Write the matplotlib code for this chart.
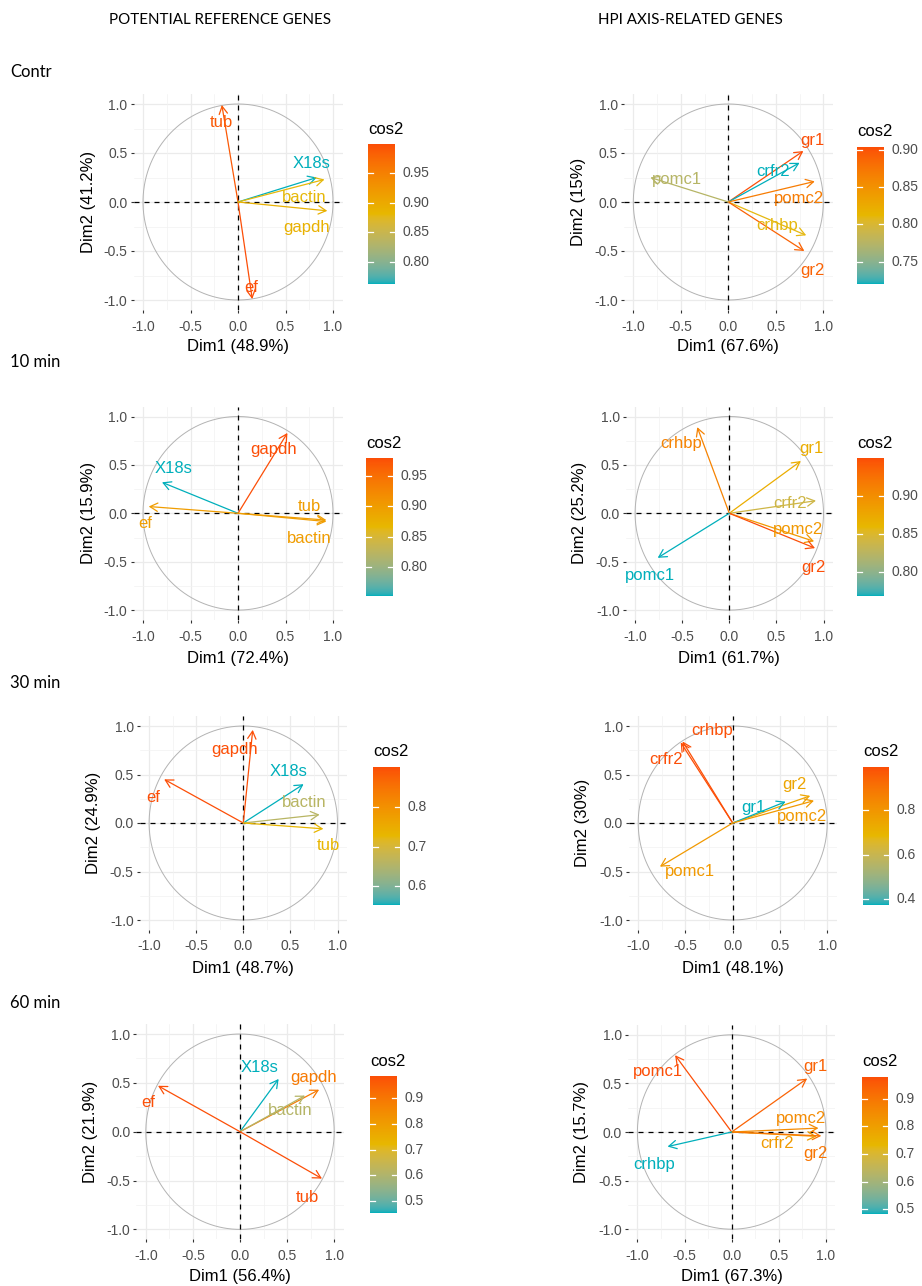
import numpy as np
import matplotlib
matplotlib.use("Agg")
import matplotlib.pyplot as plt
from matplotlib.colors import ListedColormap, Normalize

W, H, DPI = 922, 1286, 100

col_titles = ["POTENTIAL REFERENCE GENES", "HPI AXIS-RELATED GENES"]
row_titles = ["Contr", "10 min", "30 min", "60 min"]

# ---------------- data (variable coordinates on Dim1/Dim2 and cos2) ----------------
p1_names = ["tub", "ef", "X18s", "bactin", "gapdh"]
p1_x = [-0.17, 0.15, 0.83, 0.91, 0.94]
p1_y = [0.99, -0.99, 0.25, 0.23, -0.09]
p1_cos2 = [0.99, 1.0, 0.762, 0.88, 0.89]
p1_dims = ("48.9%", "41.2%")
p1_cticks = ["0.80", "0.85", "0.90", "0.95"]

p2_names = ["gr1", "crfr2", "pomc2", "crhbp", "gr2", "pomc1"]
p2_x = [0.79, 0.75, 0.91, 0.82, 0.80, -0.82]
p2_y = [0.52, 0.40, 0.21, -0.34, -0.50, 0.25]
p2_cos2 = [0.904, 0.72, 0.87, 0.81, 0.89, 0.775]
p2_dims = ("67.6%", "15%")
p2_cticks = ["0.75", "0.80", "0.85", "0.90"]

p3_names = ["gapdh", "X18s", "ef", "tub", "bactin"]
p3_x = [0.52, -0.80, -0.94, 0.93, 0.93]
p3_y = [0.83, 0.32, 0.07, -0.07, -0.085]
p3_cos2 = [0.98, 0.752, 0.90, 0.90, 0.90]
p3_dims = ("72.4%", "15.9%")
p3_cticks = ["0.80", "0.85", "0.90", "0.95"]

p4_names = ["crhbp", "gr1", "crfr2", "pomc2", "gr2", "pomc1"]
p4_x = [-0.34, 0.76, 0.92, 0.90, 0.91, -0.76]
p4_y = [0.89, 0.54, 0.13, -0.29, -0.36, -0.46]
p4_cos2 = [0.91, 0.87, 0.84, 0.89, 0.949, 0.769]
p4_dims = ("61.7%", "25.2%")
p4_cticks = ["0.80", "0.85", "0.90"]

p5_names = ["gapdh", "X18s", "ef", "bactin", "tub"]
p5_x = [0.10, 0.64, -0.84, 0.81, 0.85]
p5_y = [0.96, 0.40, 0.45, 0.086, -0.06]
p5_cos2 = [0.90, 0.552, 0.902, 0.66, 0.73]
p5_dims = ("48.7%", "24.9%")
p5_cticks = ["0.6", "0.7", "0.8"]

p6_names = ["crhbp", "crfr2", "gr2", "gr1", "pomc2", "pomc1"]
p6_x = [-0.53, -0.55, 0.82, 0.56, 0.86, -0.77]
p6_y = [0.84, 0.83, 0.28, 0.22, 0.23, -0.45]
p6_cos2 = [0.99, 0.995, 0.75, 0.374, 0.79, 0.79]
p6_dims = ("48.1%", "30%")
p6_cticks = ["0.4", "0.6", "0.8"]

p7_names = ["X18s", "gapdh", "bactin", "ef", "tub"]
p7_x = [0.41, 0.84, 0.69, -0.87, 0.87]
p7_y = [0.54, 0.43, 0.37, 0.47, -0.48]
p7_cos2 = [0.455, 0.89, 0.61, 0.98, 0.984]
p7_dims = ("56.4%", "21.9%")
p7_cticks = ["0.5", "0.6", "0.7", "0.8", "0.9"]

p8_names = ["pomc1", "gr1", "pomc2", "crfr2", "gr2", "crhbp"]
p8_x = [-0.60, 0.80, 0.92, 0.90, 0.95, -0.68]
p8_y = [0.79, 0.55, 0.04, -0.045, -0.04, -0.15]
p8_cos2 = [0.978, 0.94, 0.85, 0.81, 0.90, 0.483]
p8_dims = ("67.3%", "15.7%")
p8_cticks = ["0.5", "0.6", "0.7", "0.8", "0.9"]

# ---------------- layout (label placement in data units, panel pixel geometry) ----------------
label_pos = {
    1: [(-0.18, 0.81), (0.14, -0.87), (0.77, 0.39), (0.70, 0.05), (0.72, -0.26)],
    2: [(0.89, 0.63), (0.47, 0.31), (0.74, 0.04), (0.51, -0.24), (0.89, -0.70), (-0.54, 0.23)],
    3: [(0.37, 0.66), (-0.68, 0.46), (-0.98, -0.11), (0.75, 0.07), (0.75, -0.26)],
    4: [(-0.51, 0.72), (0.87, 0.67), (0.64, 0.10), (0.73, -0.17), (0.89, -0.56), (-0.84, -0.64)],
    5: [(-0.09, 0.76), (0.48, 0.53), (-0.96, 0.26), (0.65, 0.21), (0.90, -0.23)],
    6: [(-0.22, 0.95), (-0.71, 0.65), (0.65, 0.40), (0.22, 0.16), (0.73, 0.07), (-0.45, -0.50)],
    7: [(0.21, 0.66), (0.78, 0.55), (0.53, 0.215), (-0.97, 0.30), (0.71, -0.67)],
    8: [(-0.78, 0.62), (0.89, 0.67), (0.74, 0.14), (0.48, -0.12), (0.89, -0.22), (-0.82, -0.33)],
}
# centre x, centre y, px per unit x, px per unit y, colorbar (left, top, right, bottom)
geom = {
    1: (238.0, 202.0, 95.0, 98.0, (368, 144, 395, 284)),
    2: (728.3, 202.0, 95.0, 98.0, (857, 147, 884, 284)),
    3: (238.0, 513.3, 95.0, 96.8, (366, 458, 393, 596)),
    4: (729.3, 513.3, 94.2, 96.8, (857, 458, 884, 596)),
    5: (243.3, 823.0, 94.2, 97.0, (373, 767, 400, 905)),
    6: (732.7, 823.0, 94.5, 97.0, (863, 767, 889, 905)),
    7: (240.0, 1131.7, 94.2, 97.7, (370, 1076, 397, 1213)),
    8: (731.7, 1132.0, 94.3, 97.2, (862, 1077, 888, 1214)),
}

panels = {
    1: (p1_names, p1_x, p1_y, p1_cos2, p1_dims, p1_cticks),
    2: (p2_names, p2_x, p2_y, p2_cos2, p2_dims, p2_cticks),
    3: (p3_names, p3_x, p3_y, p3_cos2, p3_dims, p3_cticks),
    4: (p4_names, p4_x, p4_y, p4_cos2, p4_dims, p4_cticks),
    5: (p5_names, p5_x, p5_y, p5_cos2, p5_dims, p5_cticks),
    6: (p6_names, p6_x, p6_y, p6_cos2, p6_dims, p6_cticks),
    7: (p7_names, p7_x, p7_y, p7_cos2, p7_dims, p7_cticks),
    8: (p8_names, p8_x, p8_y, p8_cos2, p8_dims, p8_cticks),
}

# ---------------- colour map: ggplot-style Lab interpolation ----------------
WHITE = np.array([0.95047, 1.0, 1.08883])
M = np.array([[0.4124564, 0.3575761, 0.1804375],
              [0.2126729, 0.7151522, 0.0721750],
              [0.0193339, 0.1191920, 0.9503041]])
Minv = np.linalg.inv(M)


def hex2rgb(h):
    h = h.lstrip("#")
    return np.array([int(h[i:i + 2], 16) for i in (0, 2, 4)]) / 255.0


def rgb2lab(c):
    lin = np.where(c <= 0.04045, c / 12.92, ((c + 0.055) / 1.055) ** 2.4)
    t = (M @ lin) / WHITE
    f = np.where(t > 0.008856, np.cbrt(t), 7.787 * t + 16 / 116)
    return np.array([116 * f[1] - 16, 500 * (f[0] - f[1]), 200 * (f[1] - f[2])])


def lab2rgb(lab):
    fy = (lab[0] + 16) / 116
    fx = fy + lab[1] / 500
    fz = fy - lab[2] / 200
    f = np.array([fx, fy, fz])
    t = np.where(f ** 3 > 0.008856, f ** 3, (f - 16 / 116) / 7.787) * WHITE
    lin = Minv @ t
    lin = np.clip(lin, 0, 1)
    c = np.where(lin <= 0.0031308, 12.92 * lin, 1.055 * lin ** (1 / 2.4) - 0.055)
    return np.clip(c, 0, 1)


stops = [rgb2lab(hex2rgb(h)) for h in ("#00AFBB", "#E7B800", "#FC4E07")]
cols = []
for v in np.linspace(0, 1, 256):
    if v <= 0.5:
        a, b, t = stops[0], stops[1], v / 0.5
    else:
        a, b, t = stops[1], stops[2], (v - 0.5) / 0.5
    cols.append(lab2rgb(a + (b - a) * t))
cmap = ListedColormap(cols)

# ---------------- drawing ----------------
plt.rcParams["font.family"] = ["Liberation Sans", "DejaVu Sans"]
fig = plt.figure(figsize=(W / DPI, H / DPI), dpi=DPI)


def frect(l, t, w, h):
    return [l / W, 1 - (t + h) / H, w / W, h / H]


def ftext(x, y, s, **kw):
    fig.text(x / W, 1 - y / H, s, **kw)


TICKCOL = "#4D4D4D"
LIM = 1.1

for k, (names, xs, ys, c2, dims, cticks) in panels.items():
    cx, cy, ux, uy, cb = geom[k]
    ax = fig.add_axes(frect(cx - LIM * ux, cy - LIM * uy, 2 * LIM * ux, 2 * LIM * uy))
    ax.set_xlim(-LIM, LIM)
    ax.set_ylim(-LIM, LIM)
    for s in ax.spines.values():
        s.set_visible(False)
    ticks = [-1.0, -0.5, 0.0, 0.5, 1.0]
    minor = [-0.75, -0.25, 0.25, 0.75]
    for v in ticks:
        ax.axvline(v, color="#EBEBEB", lw=0.9, zorder=0)
        ax.axhline(v, color="#EBEBEB", lw=0.9, zorder=0)
    for v in minor:
        ax.axvline(v, color="#F2F2F2", lw=0.5, zorder=0)
        ax.axhline(v, color="#F2F2F2", lw=0.5, zorder=0)
    ax.set_xticks(ticks)
    ax.set_yticks(ticks)
    ax.set_xticklabels(["-1.0", "-0.5", "0.0", "0.5", "1.0"])
    ax.set_yticklabels(["-1.0", "-0.5", "0.0", "0.5", "1.0"])
    ax.tick_params(axis="both", length=2.5, width=0.8, color="#333333",
                   labelcolor=TICKCOL, labelsize=10)
    ax.tick_params(axis="x", pad=4.5)
    ax.tick_params(axis="y", pad=1.8)

    th = np.linspace(0, 2 * np.pi, 400)
    ax.plot(np.cos(th), np.sin(th), color="#B3B3B3", lw=0.7, zorder=1)
    ax.axhline(0, color="black", lw=0.9, dashes=(4, 4), zorder=2)
    ax.axvline(0, color="black", lw=0.9, dashes=(4, 4), zorder=2)

    norm = Normalize(vmin=min(c2), vmax=max(c2))
    for i, nm in enumerate(names):
        col = cmap(norm(c2[i]))
        ax.annotate("", xy=(xs[i], ys[i]), xytext=(0, 0),
                    arrowprops=dict(arrowstyle="->,head_length=0.55,head_width=0.3",
                                    color=col, lw=0.9, shrinkA=0, shrinkB=0,
                                    mutation_scale=10), zorder=3)
        lx, ly = label_pos[k][i]
        ax.text(lx, ly, nm, color=col, fontsize=12, ha="center", va="center",
                zorder=4, clip_on=False)

    # axis titles
    ftext(cx, cy + 145, "Dim1 (%s)" % dims[0], fontsize=12, ha="center", va="center")
    ftext(cx - 150, cy, "Dim2 (%s)" % dims[1], fontsize=12, ha="center", va="center",
          rotation=90)

    # colour bar
    l, t, r, b = cb
    cax = fig.add_axes(frect(l, t, r - l, b - t))
    vmin, vmax = min(c2), max(c2)
    grad = np.linspace(vmin, vmax, 256).reshape(-1, 1)
    cax.imshow(grad, cmap=cmap, norm=norm, aspect="auto", origin="lower",
               extent=(0, 1, vmin, vmax))
    cax.set_xlim(0, 1)
    cax.set_ylim(vmin, vmax)
    cax.set_xticks([])
    cax.set_yticks([])
    for s in cax.spines.values():
        s.set_visible(False)
    for lab in cticks:
        v = float(lab)
        cax.plot([0, 0.2], [v, v], color="white", lw=0.9)
        cax.plot([0.8, 1.0], [v, v], color="white", lw=0.9)
        ypx = b - (v - vmin) / (vmax - vmin) * (b - t)
        ftext(r + 7, ypx, lab, fontsize=10, color=TICKCOL, ha="left", va="center")
    ftext(l, t - 15, "cos2", fontsize=12, ha="left", va="center")

# headers
ftext(220, 20, col_titles[0], ha="center", va="center",
      family=["Lato", "DejaVu Sans"], fontsize=10.9, color="black")
ftext(690, 20, col_titles[1], ha="center", va="center",
      family=["Lato", "DejaVu Sans"], fontsize=10.9, color="black")
for yy, s in zip([72, 362, 683, 1003], row_titles):
    ftext(10, yy, s, ha="left", va="center", family=["Lato", "DejaVu Sans"],
          fontsize=12, color="black")

fig.savefig("out.png", dpi=DPI)
